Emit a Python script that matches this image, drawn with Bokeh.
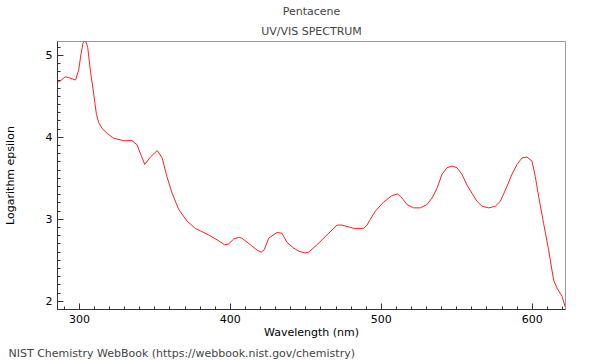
from bokeh.plotting import figure
from bokeh.models import Range1d, SingleIntervalTicker, Title
from bokeh.embed import file_html
from bokeh.resources import INLINE

wavelength = [285.4, 287.4, 290.7, 292.9, 297.4, 299.5, 301.1, 302.4, 304.0, 305.5,
              307.3, 309.5, 311.3, 312.8, 315.0, 318.3, 322.7, 329.3, 334.9, 338.2,
              341.1, 343.3, 347.0, 351.6, 354.8, 358.0, 361.4, 365.8, 371.3, 376.8,
              380.1, 385.6, 391.2, 396.2, 398.9, 402.2, 405.5, 407.7, 413.2, 418.0,
              420.5, 422.5, 425.4, 430.9, 434.2, 437.5, 441.9, 445.5, 449.7, 451.9,
              457.4, 464.0, 470.7, 474.0, 478.0, 481.7, 488.3, 490.5, 492.7, 496.0,
              501.5, 507.0, 510.8, 513.7, 517.0, 521.4, 525.8, 530.2, 533.6, 536.9,
              540.2, 543.5, 546.8, 550.1, 553.4, 556.7, 560.0, 563.4, 566.7, 571.1,
              575.5, 578.8, 583.2, 586.5, 589.9, 593.2, 596.5, 599.8, 602.0, 604.2,
              607.5, 610.8, 614.1, 616.4, 619.7, 621.9]
log_epsilon = [4.67, 4.69, 4.74, 4.73, 4.70, 4.82, 5.02, 5.15, 5.18, 5.10,
               4.81, 4.53, 4.28, 4.18, 4.11, 4.05, 3.99, 3.96, 3.96, 3.91,
               3.77, 3.67, 3.76, 3.84, 3.75, 3.52, 3.32, 3.12, 2.98, 2.89,
               2.86, 2.81, 2.75, 2.69, 2.70, 2.76, 2.78, 2.77, 2.69, 2.62,
               2.60, 2.63, 2.77, 2.84, 2.83, 2.72, 2.65, 2.61, 2.59, 2.60,
               2.69, 2.81, 2.93, 2.93, 2.91, 2.89, 2.89, 2.93, 3.00, 3.10,
               3.21, 3.29, 3.31, 3.26, 3.18, 3.14, 3.14, 3.18, 3.26, 3.38,
               3.55, 3.63, 3.65, 3.63, 3.55, 3.42, 3.32, 3.22, 3.16, 3.14,
               3.16, 3.22, 3.40, 3.55, 3.67, 3.75, 3.76, 3.71, 3.52, 3.28,
               2.95, 2.63, 2.26, 2.16, 2.06, 1.93]

title_main = "Pentacene"
title_sub = "UV/VIS SPECTRUM"
x_label = "Wavelength (nm)"
y_label = "Logarithm epsilon"
footer = "NIST Chemistry WebBook (https://webbook.nist.gov/chemistry)"

FONT = "DejaVu Sans"
FS = "11px"

p = figure(frame_width=508, frame_height=268, output_backend="svg", toolbar_location=None,
           x_range=Range1d(285.5, 622), y_range=Range1d(1.9, 5.17),
           min_border_left=49, min_border_right=27, min_border_top=32, min_border_bottom=0)
p.background_fill_color = "white"
p.border_fill_color = "white"
p.grid.visible = False
p.outline_line_color = "#999999"
p.outline_line_width = 1

p.line(wavelength, log_epsilon, line_color="#ff2020", line_width=1)

p.xaxis.ticker = SingleIntervalTicker(interval=100, num_minor_ticks=10)
p.yaxis.ticker = SingleIntervalTicker(interval=1, num_minor_ticks=10)
for ax in (p.xaxis, p.yaxis):
    ax.major_tick_in = 6
    ax.major_tick_out = 0
    ax.minor_tick_in = 3
    ax.minor_tick_out = 0
    ax.axis_line_color = "#333333"
    ax.major_tick_line_color = "#333333"
    ax.minor_tick_line_color = "#333333"
    ax.major_label_text_font = FONT
    ax.major_label_text_font_size = FS
    ax.major_label_text_color = "black"
    ax.axis_label_text_font = FONT
    ax.axis_label_text_font_size = FS
    ax.axis_label_text_font_style = "normal"
    ax.axis_label_text_color = "black"
p.xaxis.axis_label = x_label
p.yaxis.axis_label = y_label
p.xaxis.major_label_standoff = 5
p.xaxis.axis_label_standoff = 0
p.yaxis.major_label_standoff = 5
p.yaxis.axis_label_standoff = 26

p.add_layout(Title(text=title_sub, align="center", text_font=FONT, text_font_size=FS,
                   text_font_style="normal", standoff=7), "above")
p.add_layout(Title(text=title_main, align="center", text_font=FONT, text_font_size=FS,
                   text_font_style="normal", standoff=4), "above")
p.add_layout(Title(text=footer, align="left", text_font=FONT, text_font_size=FS,
                   text_font_style="normal", offset=-49, standoff=6), "below")

open("out.html", "w").write(file_html(p, INLINE))
